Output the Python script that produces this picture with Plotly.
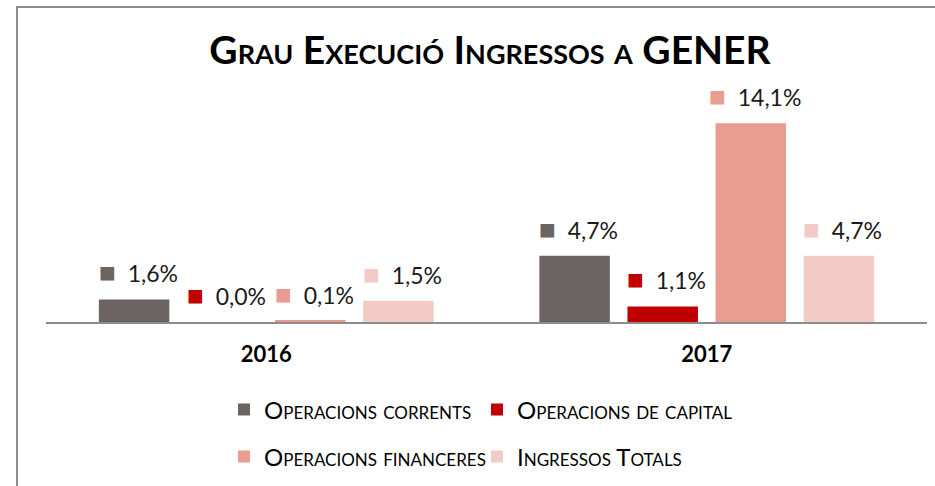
import plotly.graph_objects as go

years = ["2016", "2017"]
series_names = ["Operacions corrents", "Operacions de capital",
                "Operacions financeres", "Ingressos Totals"]
op_corrents = [1.6, 4.7]
op_capital = [0.0, 1.1]
op_financeres = [0.1, 14.1]
ingressos_totals = [1.5, 4.7]
series_values = [op_corrents, op_capital, op_financeres, ingressos_totals]
colors = ["#6B6462", "#C00000", "#E89C92", "#F3CBC6"]
legend_ids = ["legend", "legend2", "legend3", "legend4"]

FONT = "Lato, 'Open Sans', sans-serif"

W, H = 935, 486
ML, MR, MT, MB = 46, 8, 100, 164
plot_w = W - ML - MR
plot_h = H - MT - MB
px_per_unit = 14.1
y_max = plot_h / px_per_unit

fig = go.Figure()
for name, vals, col, lg in zip(series_names, series_values, colors, legend_ids):
    fig.add_trace(go.Bar(
        x=years, y=vals, name=name, marker=dict(color=col, line=dict(width=0)),
        legend=lg, showlegend=True, hoverinfo="skip",
    ))

n = len(series_names)
slot = (1 - 0.2) / n
annotations = []
for j, (vals, col) in enumerate(zip(series_values, colors)):
    for i, v in enumerate(vals):
        txt = f"{v:.1f}".replace(".", ",") + "%"
        annotations.append(dict(
            x=i + (j - (n - 1) / 2) * slot, y=v, xref="x", yref="y",
            text=f"<span style='font-size:28px;color:{col}'>■</span>&nbsp;&nbsp;{txt}",
            showarrow=False, xanchor="center", yanchor="middle",
            xshift=4, yshift=28,
            font=dict(family=FONT, size=23, color="#1a1a1a"),
        ))

legend_common = dict(
    orientation="h", xref="container", yref="container",
    xanchor="left", yanchor="middle",
    font=dict(family=FONT, size=24, variant="small-caps", color="black"),
    bgcolor="rgba(0,0,0,0)",
)
col_x = [224 / W, 477 / W]
row_y = [1 - 410 / H, 1 - 457 / H]

fig.update_layout(
    width=W, height=H,
    showlegend=True,
    margin=dict(l=ML, r=MR, t=MT, b=MB),
    paper_bgcolor="white", plot_bgcolor="white",
    barmode="group", bargap=0.2, bargroupgap=0.2,
    font=dict(family=FONT, color="black"),
    title=dict(
        text="Grau Execució Ingressos a GENER",
        x=(490 - ML) / plot_w, xref="paper", xanchor="center",
        y=1 - 50 / H, yref="container", yanchor="middle",
        font=dict(family=FONT, size=39, weight="bold", variant="small-caps", color="black"),
    ),
    xaxis=dict(
        type="category", showline=True, linecolor="#8c8c8c", linewidth=2,
        ticks="", showgrid=False, zeroline=False,
        tickfont=dict(family=FONT, size=22, weight="bold", color="black"),
        ticklabelstandoff=12,
    ),
    yaxis=dict(range=[0, y_max], visible=False, showgrid=False, zeroline=False),
    annotations=annotations,
    shapes=[dict(
        type="rect", xref="paper", yref="paper", layer="above",
        x0=(17 - ML) / plot_w, x1=(950 - ML) / plot_w,
        y0=(H - MB - 500) / plot_h, y1=(H - MB - 7) / plot_h,
        line=dict(color="#8c8c8c", width=2), fillcolor="rgba(0,0,0,0)",
    )],
    legend=dict(legend_common, x=col_x[0], y=row_y[0]),
    legend2=dict(legend_common, x=col_x[1], y=row_y[0]),
    legend3=dict(legend_common, x=col_x[0], y=row_y[1]),
    legend4=dict(legend_common, x=col_x[1], y=row_y[1]),
)

fig.write_html("out.html", config={"displayModeBar": False},
               post_script="document.body.style.margin='0';")
